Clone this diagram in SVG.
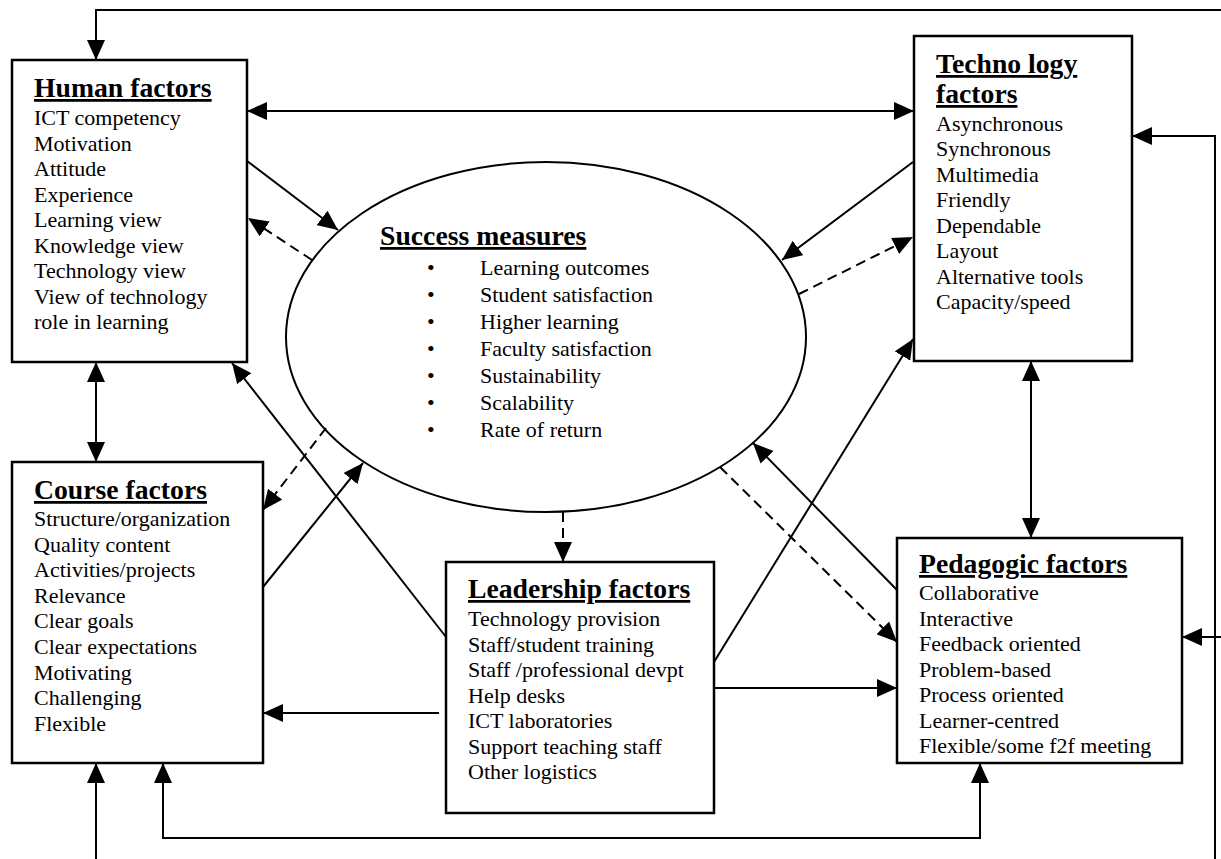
<svg xmlns="http://www.w3.org/2000/svg" width="1221" height="859" viewBox="0 0 1221 859">
<style>
text{font-family:"Liberation Serif","Times New Roman",serif;fill:#000}
.t{font-size:27.7px;font-weight:bold;text-decoration:underline}
.i{font-size:22px}
.box{fill:#fff;stroke:#000;stroke-width:2.5}
.ln{fill:none;stroke:#000;stroke-width:2}
.d{stroke-dasharray:10 6}
.a{marker-end:url(#ah)}
.b{marker-start:url(#ah);marker-end:url(#ah)}
</style>
<defs>
<marker id="ah" viewBox="0 0 20 18" refX="20" refY="9" markerWidth="20" markerHeight="18" markerUnits="userSpaceOnUse" orient="auto-start-reverse">
<path d="M0,0 L20,9 L0,18 Z" fill="#000"/>
</marker>
</defs>
<rect x="0" y="0" width="1221" height="859" fill="#fff"/>

<g id="success">
<ellipse cx="546" cy="337" rx="260" ry="175" fill="#fff" stroke="#000" stroke-width="2"/>
<text class="t" x="380" y="245">Success measures</text>
<g class="i">
<text x="427" y="275">•</text><text x="480" y="275">Learning outcomes</text>
<text x="427" y="302">•</text><text x="480" y="302">Student satisfaction</text>
<text x="427" y="329">•</text><text x="480" y="329">Higher learning</text>
<text x="427" y="356">•</text><text x="480" y="356">Faculty satisfaction</text>
<text x="427" y="383">•</text><text x="480" y="383">Sustainability</text>
<text x="427" y="410">•</text><text x="480" y="410">Scalability</text>
<text x="427" y="437">•</text><text x="480" y="437">Rate of return</text>
</g>
</g>

<g id="human">
<rect class="box" x="12" y="60" width="235" height="302"/>
<text class="t" x="34" y="97">Human factors</text>
<g class="i">
<text x="34" y="125">ICT competency</text>
<text x="34" y="150.5">Motivation</text>
<text x="34" y="176">Attitude</text>
<text x="34" y="201.5">Experience</text>
<text x="34" y="227">Learning view</text>
<text x="34" y="252.5">Knowledge view</text>
<text x="34" y="278">Technology view</text>
<text x="34" y="303.5">View of technology</text>
<text x="34" y="329">role in learning</text>
</g>
</g>

<g id="technology">
<rect class="box" x="914" y="36" width="218" height="325"/>
<text class="t" x="936" y="73">Techno logy</text>
<text class="t" x="936" y="103">factors</text>
<g class="i">
<text x="936" y="130.5">Asynchronous</text>
<text x="936" y="156">Synchronous</text>
<text x="936" y="181.5">Multimedia</text>
<text x="936" y="207">Friendly</text>
<text x="936" y="232.5">Dependable</text>
<text x="936" y="258">Layout</text>
<text x="936" y="283.5">Alternative tools</text>
<text x="936" y="309">Capacity/speed</text>
</g>
</g>

<g id="course">
<rect class="box" x="12" y="462" width="251" height="301"/>
<text class="t" x="34" y="499">Course factors</text>
<g class="i">
<text x="34" y="526">Structure/organization</text>
<text x="34" y="551.6">Quality content</text>
<text x="34" y="577.2">Activities/projects</text>
<text x="34" y="602.8">Relevance</text>
<text x="34" y="628.4">Clear goals</text>
<text x="34" y="654">Clear expectations</text>
<text x="34" y="679.6">Motivating</text>
<text x="34" y="705.2">Challenging</text>
<text x="34" y="730.8">Flexible</text>
</g>
</g>

<g id="leadership">
<rect class="box" x="446" y="562" width="268" height="251"/>
<text class="t" x="468" y="598">Leadership factors</text>
<g class="i">
<text x="468" y="626">Technology provision</text>
<text x="468" y="651.5">Staff/student training</text>
<text x="468" y="677">Staff /professional devpt</text>
<text x="468" y="702.5">Help desks</text>
<text x="468" y="728">ICT laboratories</text>
<text x="468" y="753.5">Support teaching staff</text>
<text x="468" y="779">Other logistics</text>
</g>
</g>

<g id="pedagogic">
<rect class="box" x="897" y="538" width="285" height="225"/>
<text class="t" x="919" y="573">Pedagogic factors</text>
<g class="i">
<text x="919" y="600">Collaborative</text>
<text x="919" y="625.5">Interactive</text>
<text x="919" y="651">Feedback oriented</text>
<text x="919" y="676.5">Problem-based</text>
<text x="919" y="702">Process oriented</text>
<text x="919" y="727.5">Learner-centred</text>
<text x="919" y="753">Flexible/some f2f meeting</text>
</g>
</g>

<g id="connectors">
<polyline class="ln a" points="1221,10 96,10 96,60"/>
<polyline class="ln a" points="1215,859 1215,136 1132,136"/>
<line class="ln a" x1="1221" y1="637" x2="1182" y2="637"/>
<line class="ln a" x1="96" y1="859" x2="96" y2="763"/>
<polyline class="ln b" points="163,763 163,838 980,838 980,763"/>
<line class="ln b" x1="96" y1="362" x2="96" y2="462"/>
<line class="ln b" x1="247" y1="111" x2="914" y2="111"/>
<line class="ln b" x1="1031" y1="361" x2="1031" y2="538"/>
<line class="ln a" x1="247" y1="161" x2="338" y2="230"/>
<line class="ln a d" x1="312" y1="260" x2="248" y2="218"/>
<line class="ln a" x1="913" y1="162" x2="782" y2="260"/>
<line class="ln a d" x1="799" y1="294" x2="913" y2="237"/>
<line class="ln a" x1="263" y1="587" x2="363" y2="463"/>
<line class="ln a d" x1="326" y1="428" x2="263" y2="510"/>
<line class="ln a" x1="897" y1="590" x2="753" y2="443"/>
<line class="ln a d" x1="720" y1="467" x2="897" y2="642"/>
<line class="ln a d" x1="563" y1="512" x2="563" y2="562"/>
<line class="ln a" x1="446" y1="637" x2="232" y2="363"/>
<line class="ln a" x1="714" y1="662" x2="913" y2="339"/>
<line class="ln a" x1="439" y1="713" x2="263" y2="713"/>
<line class="ln a" x1="714" y1="688" x2="897" y2="688"/>
</g>
</svg>
